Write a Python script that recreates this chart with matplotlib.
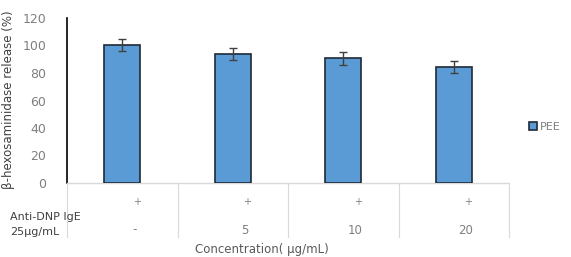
import matplotlib
matplotlib.use("Agg")
import matplotlib.pyplot as plt
import matplotlib.transforms as mtransforms
import numpy as np

# dados
concentracoes = ["-", "5", "10", "20"]
ige = ["+", "+", "+", "+"]
liberacao = [100.3, 93.8, 90.7, 84.6]
erro = [4.4, 4.6, 4.8, 4.4]

cor_barra = "#5B9BD5"
cinza = "#7F7F7F"

fig = plt.figure(figsize=(5.71, 2.57), dpi=100)
ax = fig.add_axes([67 / 571, 1 - 183 / 257, (509 - 67) / 571, 165 / 257])

x = np.arange(len(liberacao))
ax.bar(x, liberacao, width=0.33, color=cor_barra, edgecolor="#1F2A36", linewidth=1.2,
       yerr=erro, capsize=3, error_kw=dict(ecolor="#404040", elinewidth=1, capthick=1),
       label="PEE", zorder=3)

ax.set_xlim(-0.5, len(liberacao) - 0.5)
ax.set_ylim(0, 120)
ax.set_yticks(range(0, 121, 20))
ax.tick_params(axis="y", length=0, pad=15, labelsize=9, labelcolor=cinza)
ax.set_xticks([])

for lado in ["top", "right"]:
    ax.spines[lado].set_visible(False)
ax.spines["left"].set_color("black")
ax.spines["left"].set_linewidth(1.2)
ax.spines["bottom"].set_color("#D9D9D9")
ax.spines["bottom"].set_linewidth(1)

# tabela abaixo do eixo
trans = mtransforms.blended_transform_factory(ax.transData, ax.transAxes)
for b in np.arange(-0.5, len(liberacao)):
    ax.plot([b, b], [0, -54 / 165], color="#D9D9D9", lw=0.8, transform=trans, clip_on=False)
for i in range(len(liberacao)):
    ax.text(i + 0.13, -19 / 165, ige[i], transform=trans, ha="center", va="center",
            fontsize=7, color=cinza)
    ax.text(i + 0.11, -47 / 165, concentracoes[i], transform=trans, ha="center", va="center",
            fontsize=8.5, color=cinza)

fig.text(10 / 571, 1 - 217 / 257, "Anti-DNP IgE", ha="left", va="center", fontsize=8, color="#404040")
fig.text(10 / 571, 1 - 232 / 257, "25μg/mL", ha="left", va="center", fontsize=8, color="#404040")
fig.text(262 / 571, 1 - 250 / 257, "Concentration( μg/mL)", ha="center", va="center",
         fontsize=8.5, color="#595959")

fig.text(9 / 571, 1 - 100 / 257, "β-hexosaminidase release (%)", rotation=90, ha="center",
         va="center", fontsize=8.5, color="#404040")

fig.legend(loc="center left", bbox_to_anchor=(519 / 571, 1 - 127 / 257), frameon=False,
           fontsize=8, handlelength=0.7, handleheight=0.7, handletextpad=0.3,
           labelcolor=cinza)

fig.savefig("out.png", dpi=100)
